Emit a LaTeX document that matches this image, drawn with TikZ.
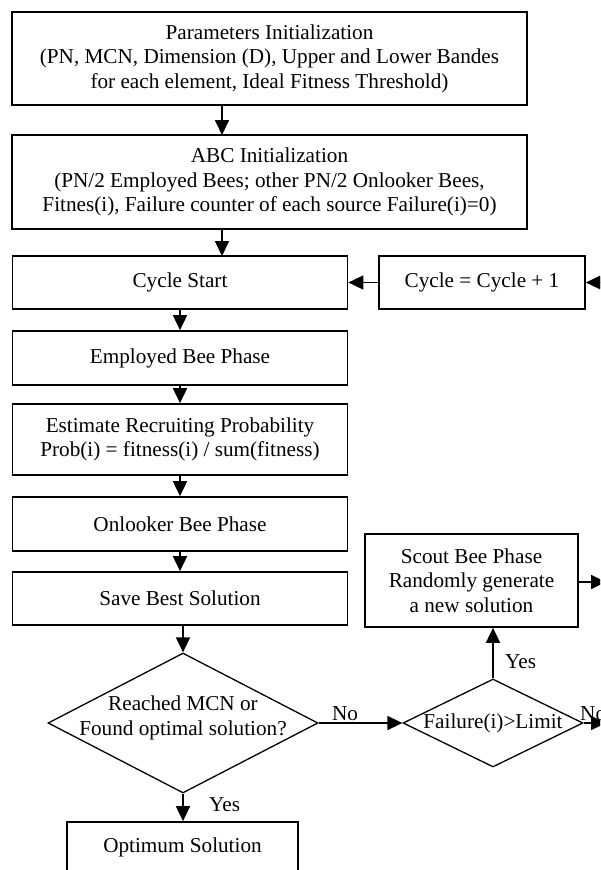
\documentclass[tikz,border=0pt]{standalone}
\usepackage{fontspec}
\setmainfont{Liberation Serif}
\usetikzlibrary{arrows.meta,shapes.geometric}
\begin{document}
\begin{tikzpicture}[x=1pt,y=-1pt,
  every node/.style={font=\fontsize{21.2}{24.5}\selectfont},
  box/.style={draw,line width=1.7pt,rectangle,align=center,inner sep=0pt},
  flow/.style={line width=1.7pt,-{Triangle[length=15pt,width=14pt]}},
  lbl/.style={inner sep=0pt}]
\useasboundingbox (0,0) rectangle (600,870);
\clip (0,0) rectangle (600,870);

% main column
\node[box,minimum width=515pt,minimum height=93pt] (par) at (269.5,58.5)
  {Parameters Initialization\\(PN, MCN, Dimension (D), Upper and Lower Bandes\\for each element, Ideal Fitness Threshold)};
\node[box,minimum width=515pt,minimum height=94pt] (abc) at (269.5,182)
  {ABC Initialization\\(PN/2 Employed Bees; other PN/2 Onlooker Bees,\\Fitnes(i), Failure counter of each source Failure(i)=0)};
\node[box,minimum width=335pt,minimum height=53pt] (cs) at (180,282.5) {Cycle Start};
\node[box,minimum width=206pt,minimum height=53pt] (cc) at (482,282.5) {Cycle = Cycle + 1};
\node[box,minimum width=335pt,minimum height=54pt] (emp) at (180,358) {Employed Bee Phase};
\node[box,minimum width=335pt,minimum height=71pt] (est) at (180,439.5)
  {Estimate Recruiting Probability\\Prob(i) = fitness(i) / sum(fitness)};
\node[box,minimum width=335pt,minimum height=54pt] (onl) at (180,524) {Onlooker Bee Phase};
\node[box,minimum width=335pt,minimum height=53pt] (save) at (180,598.5) {Save Best Solution};

% decisions
\node[draw,line width=1.3pt,inner sep=0pt,shape=diamond,minimum width=270pt,minimum height=140pt] (mcn) at (183,723) {};
\node[align=center,inner sep=0pt] at (183,718) {Reached MCN or\\Found optimal solution?};
\node[draw,line width=1.3pt,inner sep=0pt,shape=diamond,minimum width=180pt,minimum height=88pt] (fail) at (493,723) {};
\node[inner sep=0pt] at (493,723) {Failure(i)>Limit};

\node[box,minimum width=213pt,minimum height=93pt] (scout) at (471.5,580.5)
  {Scout Bee Phase\\Randomly generate\\a new solution};
\node[box,minimum width=231pt,minimum height=50pt] (opt) at (182.5,847) {Optimum Solution};

% return path along the right edge
\coordinate (rt) at (620,282.5);
\coordinate (rs) at (620,582);
\coordinate (rf) at (620,723);

% connectors
\draw[flow] (222,105) -- (222,135);
\draw[flow] (222,229) -- (222,256);
\draw[flow] (cs) -- (emp);
\draw[flow] (emp) -- (est);
\draw[flow] (est) -- (onl);
\draw[flow] (onl) -- (save);
\draw[flow] (save.south -| mcn.north) -- (mcn.north);
\draw[flow] (mcn.south) -- (opt.north -| mcn.south);
\draw[flow] (mcn.east) -- (fail.west);
\draw[flow] (fail.north) -- (fail.north |- scout.south);
\draw[flow] (cc.west) -- (cs.east);
\draw[flow] (rt) -- (cc.east);
\draw[flow] (scout.east |- rs) -- (606,582);
\draw[flow] (fail.east) -- (606,723);
\draw[line width=1.7pt] (612,723) -- (612,282.5);

% branch labels
\node[lbl,anchor=west] at (209,805) {Yes};
\node[lbl,anchor=south] at (345,721) {No};
\node[lbl,anchor=west] at (505,662) {Yes};
\node[lbl,anchor=south west] at (580,721) {No};
\end{tikzpicture}
\end{document}
